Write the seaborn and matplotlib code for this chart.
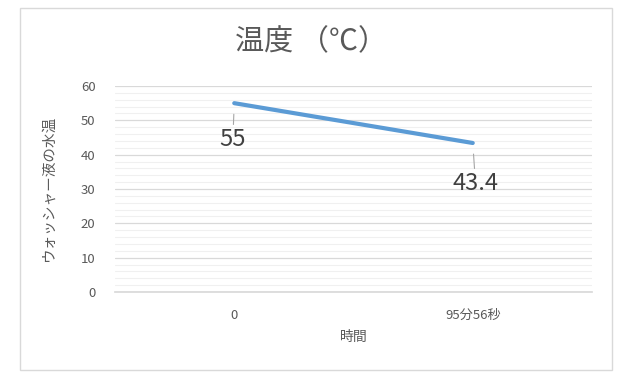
import matplotlib
matplotlib.use("Agg")
import matplotlib.pyplot as plt
from matplotlib.patches import Rectangle
from matplotlib.ticker import MultipleLocator
import seaborn as sns
import pandas as pd

categories = ["0", "95分56秒"]
temperatures = [55, 43.4]
yticks = [0, 10, 20, 30, 40, 50, 60]
title = "温度 （℃）"
xlabel = "時間"
ylabel = "ウォッシャー液の水温"

sns.set_theme(style="white")
plt.rcParams['font.family'] = ['Noto Sans CJK JP', 'DejaVu Sans']

df = pd.DataFrame({"pos": range(len(categories)), "temp": temperatures})

fig = plt.figure(figsize=(6.21, 3.75), dpi=100)
fig.patch.set_facecolor("white")
fig.patches.append(Rectangle((20/621, 1-370/375), 592/621, 362/375, transform=fig.transFigure,
                             fill=False, edgecolor="#D9D9D9", linewidth=1.0))

ax = fig.add_axes([115/621, 1-292/375, 477/621, 206/375])
sns.lineplot(data=df, x="pos", y="temp", ax=ax, color="#5B9BD5", linewidth=3.0,
             solid_capstyle="round", zorder=3)

ax.set_xlim(-0.5, len(categories) - 0.5)
ax.set_ylim(0, 60)
ax.set_yticks(yticks)
ax.yaxis.set_minor_locator(MultipleLocator(2))
ax.set_xticks(range(len(categories)))
ax.set_xticklabels(categories)
ax.grid(which="major", axis="y", color="#D9D9D9", linewidth=0.9)
ax.grid(which="minor", axis="y", color="#F0F0F0", linewidth=0.8)
ax.set_axisbelow(True)
for s in ["top", "right", "left"]:
    ax.spines[s].set_visible(False)
ax.spines["bottom"].set_color("#D9D9D9")
ax.tick_params(axis="both", which="both", length=0, colors="#595959", labelsize=9.5)
ax.tick_params(axis="x", pad=12)
ax.tick_params(axis="y", pad=14)

ax.set_xlabel(xlabel, color="#595959", fontsize=10, labelpad=6)
ax.set_ylabel(ylabel, color="#595959", fontsize=10.5, labelpad=18)

offsets = [(-1, -26), (2, -29)]
for i, (v, off) in enumerate(zip(temperatures, offsets)):
    ax.annotate(f"{v:g}", xy=(i, v), xytext=off, textcoords="offset points",
                ha="center", va="center", fontsize=17, color="#404040",
                arrowprops=dict(arrowstyle="-", color="#A6A6A6", linewidth=0.8,
                                shrinkA=0, shrinkB=8))

fig.text(311/621, 1-42/375, title, ha="center", va="center", fontsize=21, color="#595959")

fig.savefig("out.png", dpi=100)
